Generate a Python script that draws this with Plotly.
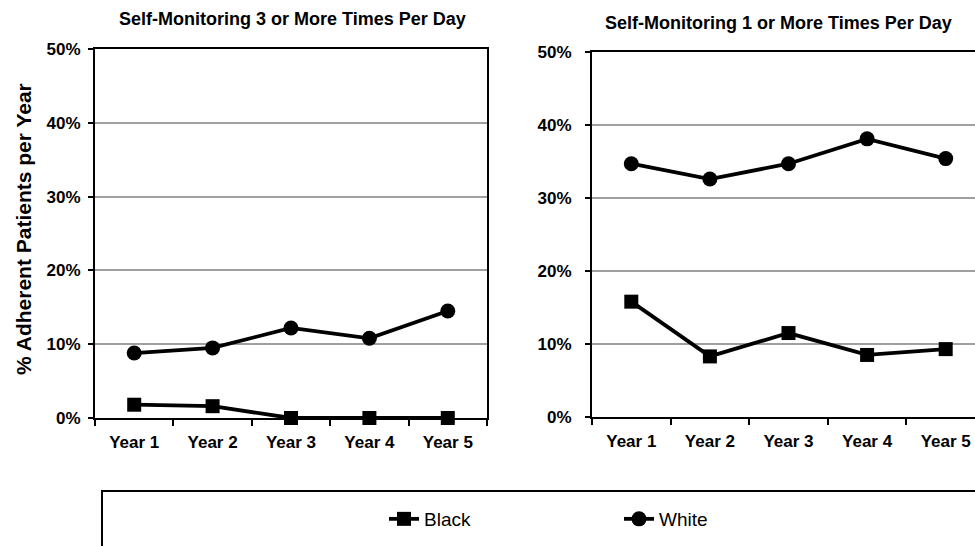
import plotly.graph_objects as go

years = ["Year 1", "Year 2", "Year 3", "Year 4", "Year 5"]
black_3x = [1.8, 1.6, 0, 0, 0]
white_3x = [8.8, 9.5, 12.2, 10.8, 14.5]
black_1x = [15.8, 8.3, 11.5, 8.5, 9.3]
white_1x = [34.7, 32.6, 34.7, 38.1, 35.4]
y_ticks = [0, 10, 20, 30, 40, 50]
y_tick_labels = [f"{v}%" for v in y_ticks]

W, H = 975, 546
FONT = "Liberation Sans, Arial, sans-serif"

fig = go.Figure()

def add(x, y, name, symbol, xa, ya, show):
    fig.add_trace(go.Scatter(
        x=x, y=y, name=name, mode="lines+markers",
        line=dict(color="black", width=3.8),
        marker=dict(symbol=symbol, size=15 if symbol == "circle" else 14, color="black"),
        xaxis=xa, yaxis=ya, showlegend=show, cliponaxis=False))

add(years, black_3x, "Black", "square", "x", "y", True)
add(years, white_3x, "White", "circle", "x", "y", True)
add(years, black_1x, "Black", "square", "x2", "y2", False)
add(years, white_1x, "White", "circle", "x2", "y2", False)

def px_x(p):
    return p / W

def px_y(p):
    return 1 - p / H

# left plot: x 95-487, y 49-418 ; right plot: x 592-(986, cropped), y 52-417
cat_w2 = 78.6
xa_common = dict(
    type="category", showline=True, linecolor="black", linewidth=2,
    ticks="outside", ticklen=6, tickwidth=2, tickcolor="black",
    tickson="boundaries", showgrid=False, zeroline=False, automargin=False,
    tickfont=dict(family=FONT, size=17, color="black", weight="bold"),
    ticklabelstandoff=8,
)
ya_common = dict(
    range=[0, 50], tickmode="array", tickvals=y_ticks, ticktext=y_tick_labels,
    showline=True, linecolor="black", linewidth=2, automargin=False,
    ticks="outside", ticklen=5, tickwidth=2, tickcolor="black",
    showgrid=True, gridcolor="#a0a0a0", gridwidth=1.5, zeroline=False,
    tickfont=dict(family=FONT, size=17, color="black", weight="bold"),
)

fig.update_layout(
    width=W, height=H,
    margin=dict(l=0, r=0, t=0, b=0, autoexpand=False),
    paper_bgcolor="white", plot_bgcolor="white",
    xaxis=dict(xa_common, domain=[px_x(95), px_x(487)], range=[-0.5, 4.5],
               anchor="y", mirror=True),
    yaxis=dict(ya_common, domain=[px_y(418), px_y(49)], anchor="x", mirror=True,
               ticklabelstandoff=4),
    xaxis2=dict(xa_common, domain=[px_x(592), 1.0],
                range=[-0.5, -0.5 + (W - 592) / cat_w2], anchor="y2", mirror=True),
    yaxis2=dict(ya_common, domain=[px_y(417), px_y(52)], anchor="x2", mirror=False,
                ticklabelstandoff=10),
    showlegend=True,
    legend=dict(
        orientation="h", x=px_x(384), xanchor="left", y=px_y(519), yanchor="middle",
        bgcolor="rgba(0,0,0,0)", borderwidth=0,
        font=dict(family=FONT, size=19, color="black"),
        entrywidth=190, entrywidthmode="pixels", itemwidth=30,
    ),
    shapes=[dict(type="rect", xref="paper", yref="paper",
                 x0=px_x(102), x1=px_x(1000), y0=px_y(560), y1=px_y(491),
                 line=dict(color="black", width=2), fillcolor="rgba(0,0,0,0)")],
    annotations=[
        dict(text="Self-Monitoring 3 or More Times Per Day", xref="paper", yref="paper",
             x=px_x(292), y=px_y(19), xanchor="center", yanchor="middle", showarrow=False,
             font=dict(family=FONT, size=18, color="black", weight="bold")),
        dict(text="Self-Monitoring 1 or More Times Per Day", xref="paper", yref="paper",
             x=px_x(778), y=px_y(23), xanchor="center", yanchor="middle", showarrow=False,
             font=dict(family=FONT, size=18, color="black", weight="bold")),
        dict(text="% Adherent Patients per Year", xref="paper", yref="paper",
             x=px_x(23), y=px_y(229), xanchor="center", yanchor="middle", showarrow=False,
             textangle=-90,
             font=dict(family=FONT, size=21, color="black", weight="bold")),
    ],
)

fig.write_html("out.html", config={"displayModeBar": False},
               post_script="document.body.style.margin='0';document.body.style.overflow='hidden';")
